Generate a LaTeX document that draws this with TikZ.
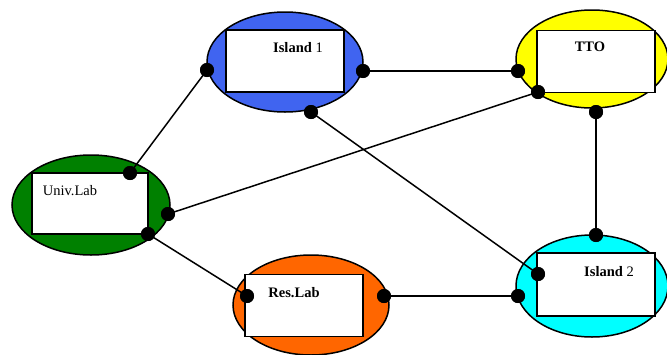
\documentclass[tikz,border=0pt]{standalone}
\usepackage{fontspec}
\setmainfont{Liberation Serif}
\usetikzlibrary{shapes.geometric}
\definecolor{cblue}{RGB}{64,100,240}
\definecolor{cyellow}{RGB}{255,255,0}
\definecolor{cgreen}{RGB}{0,128,0}
\definecolor{corange}{RGB}{255,102,0}
\definecolor{ccyan}{RGB}{0,255,255}
\tikzset{
  blob/.style={ellipse, draw=black, line width=1.5pt, inner sep=0pt, minimum width=156pt, minimum height=100pt},
  card/.style={rectangle, draw=black, fill=white, line width=1.4pt, inner sep=0pt, minimum width=118pt, minimum height=62pt},
  lbl/.style={font=\fontsize{14.5}{16}\selectfont, inner sep=0pt},
  port/.style={circle, fill=black, inner sep=0pt, minimum size=14pt},
  link/.style={line width=1.5pt, draw=black}
}
\begin{document}
\begin{tikzpicture}[x=1pt,y=-1pt]
\useasboundingbox (0,0) rectangle (667,354);
% ellipses
\node[blob, fill=cblue] (e1) at (285,62) {};
\node[blob, fill=cyellow, minimum width=152pt, minimum height=98pt] (e2) at (592,59) {};
\node[blob, fill=cgreen, minimum width=158pt] (e3) at (91,205) {};
\node[blob, fill=corange] (e4) at (311,305) {};
\node[blob, fill=ccyan, minimum width=152pt, minimum height=102pt] (e5) at (592,286) {};
% cards
\node[card] (r1) at (285,61) {};
\node[card] (r2) at (596,61.5) {};
\node[card, minimum width=116pt, minimum height=61pt] (r3) at (90,203.5) {};
\node[card] (r4) at (304,305.5) {};
\node[card, minimum height=63pt] (r5) at (596,284.5) {};
% labels
\node[lbl] (t1) at (298,48) {\textbf{Island} 1};
\node[lbl] (t2) at (590,47) {\textbf{TTO}};
\node[lbl] (t3) at (70,191) {Univ.Lab};
\node[lbl] (t4) at (294,293) {\textbf{Res.Lab}};
\node[lbl] (t5) at (609,272) {\textbf{Island} 2};
% ports
\node[port] (p1l) at (207,70) {};
\node[port] (p1r) at (363,71) {};
\node[port] (p1b) at (311,112) {};
\node[port] (p2l) at (518,71) {};
\node[port] (p2c) at (538,92) {};
\node[port] (p2b) at (596,112) {};
\node[port] (p3t) at (130,173) {};
\node[port] (p3r) at (168,214) {};
\node[port] (p3b) at (148,234) {};
\node[port] (p4l) at (247,296) {};
\node[port] (p4r) at (384,296) {};
\node[port] (p5t) at (596,235) {};
\node[port] (p5c) at (538,274) {};
\node[port] (p5l) at (518,296) {};
% links
\begin{scope}[on background layer/.try]
\end{scope}
\draw[link] (p3t.center) -- (p1l.center);
\draw[link] (p1r.center) -- (p2l.center);
\draw[link] (p3r.center) -- (p2c.center);
\draw[link] (p1b.center) -- (p5c.center);
\draw[link] (p2b.center) -- (p5t.center);
\draw[link] (p3b.center) -- (p4l.center);
\draw[link] (p4r.center) -- (p5l.center);
% redraw ports on top
\foreach \p in {p1l,p1r,p1b,p2l,p2c,p2b,p3t,p3r,p3b,p4l,p4r,p5t,p5c,p5l}
  \fill[black] (\p.center) circle (7pt);
\end{tikzpicture}
\end{document}
